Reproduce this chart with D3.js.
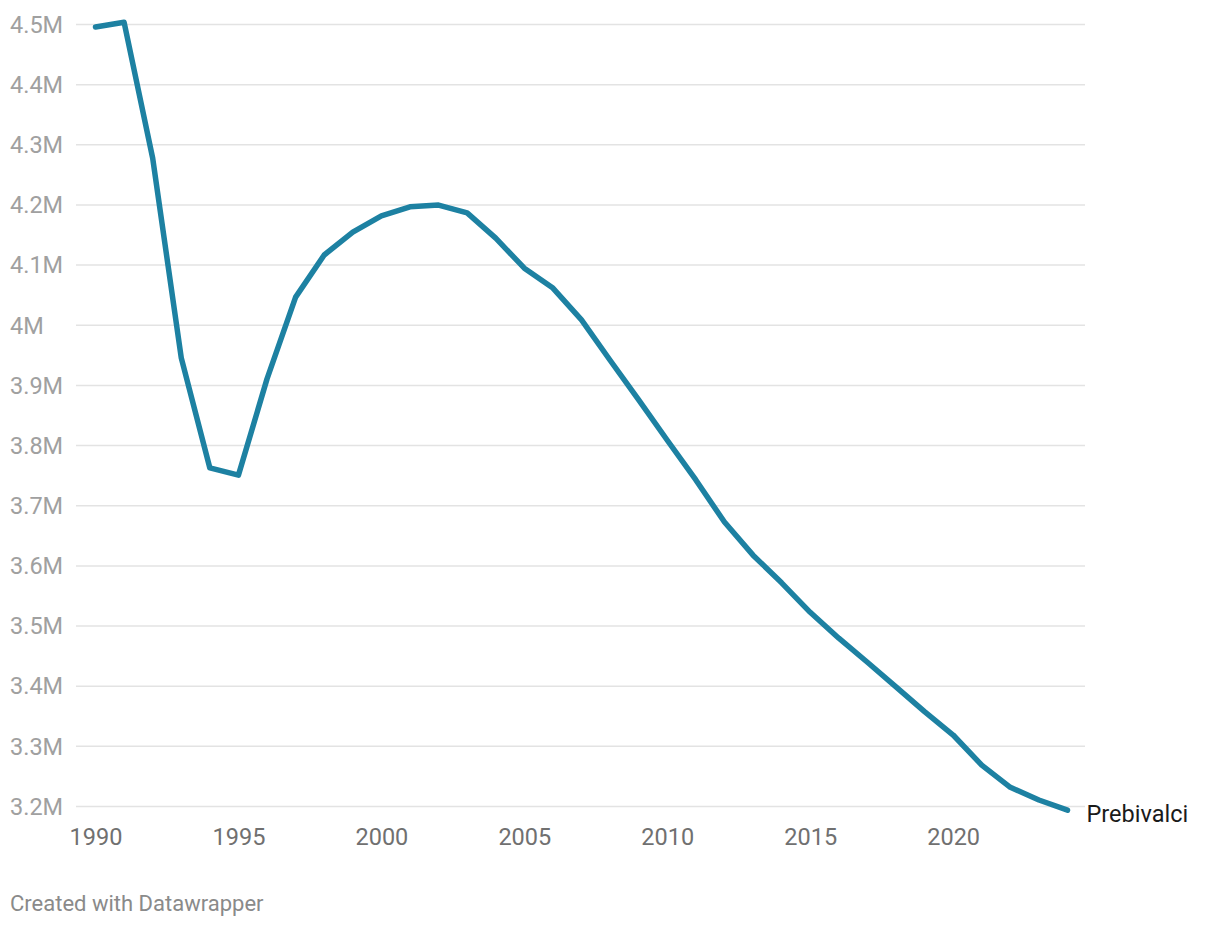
<!DOCTYPE html>
<html>
<head>
<meta charset="utf-8">
<script src="https://cdn.jsdelivr.net/npm/d3@7"></script>
<style>
  body { margin:0; background:#fff; font-family: Roboto, "Noto Sans", sans-serif; }
  svg text { font-family: Roboto, "Noto Sans", sans-serif; }
</style>
</head>
<body>
<svg id="chart" width="1220" height="928"></svg>
<script>
// ===== DATA =====
const years = d3.range(1990, 2025);
const population = [
  4495000, 4503000, 4277000, 3945000, 3762000, 3750000, 3910000, 4046000, 4116000, 4154000,
  4181000, 4196000, 4199000, 4186000, 4144000, 4094000, 4061000, 4008000, 3941000, 3875000,
  3808000, 3742000, 3672000, 3617000, 3571000, 3522000, 3479000, 3439000, 3398000, 3357000,
  3318000, 3268000, 3231000, 3210000, 3193000
];
const yTicks = [3.2e6,3.3e6,3.4e6,3.5e6,3.6e6,3.7e6,3.8e6,3.9e6,4.0e6,4.1e6,4.2e6,4.3e6,4.4e6,4.5e6];
const xTicks = [1990,1995,2000,2005,2010,2015,2020];
const seriesName = "Prebivalci";
const credit = "Created with Datawrapper";

const data = years.map((yr,i)=>({year:yr, value:population[i]}));

// ===== SCALES =====
const svg = d3.select("#chart");
const gridLeft = 76, gridRight = 1085;
const x = d3.scaleLinear().domain([1990,2024]).range([95.5,1067.5]);
const y = d3.scaleLinear().domain([3.2e6,4.5e6]).range([806,24]);

// ===== Y AXIS / GRID =====
const yAxis = svg.append("g").attr("transform",`translate(${gridLeft},0)`)
  .call(d3.axisLeft(y).tickValues(yTicks).tickSize(-(gridRight-gridLeft)).tickPadding(0)
    .tickFormat(v=>(+(v/1e6).toFixed(1))+"M"));
yAxis.select(".domain").remove();
yAxis.selectAll("line").attr("stroke","#e3e3e3").attr("stroke-width",1.5);
yAxis.selectAll("text").attr("x",10-gridLeft).attr("text-anchor","start").attr("dy","0.35em")
  .attr("fill","#a0a0a0").style("font-size","23.5px");

// ===== X AXIS =====
const xAxis = svg.append("g").attr("transform","translate(0,806)")
  .call(d3.axisBottom(x).tickValues(xTicks).tickSize(0).tickPadding(0).tickFormat(d3.format("d")));
xAxis.select(".domain").remove();
xAxis.selectAll("text").attr("y",31).attr("dy","0.35em").attr("fill","#707070").style("font-size","23.5px");

// ===== LINE =====
const line = d3.line().x(d=>x(d.year)).y(d=>y(d.value));
svg.append("path").datum(data).attr("d",line)
  .attr("fill","none").attr("stroke","#1d81a2").attr("stroke-width",5.5)
  .attr("stroke-linejoin","round").attr("stroke-linecap","round");

// ===== LABELS =====
const last = data[data.length-1];
svg.append("text").attr("x",x(last.year)+19).attr("y",y(last.value)+4).attr("dy","0.35em")
  .attr("fill","#1a1a1a").style("font-size","23.5px").text(seriesName);

svg.append("text").attr("x",10).attr("y",903).attr("dy","0.35em")
  .attr("fill","#8a8a8a").style("font-size","22px").text(credit);
</script>
</body>
</html>
